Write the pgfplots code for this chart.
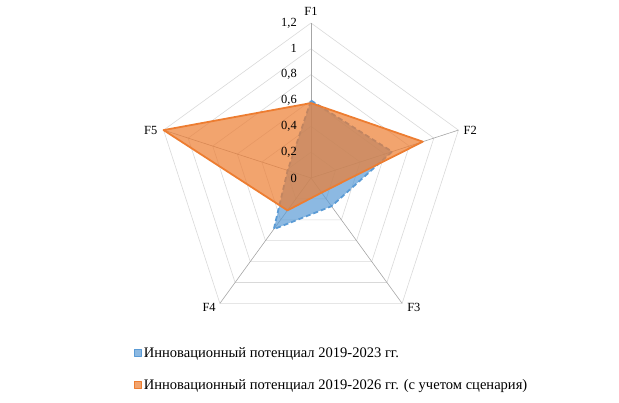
\documentclass[border=0pt]{standalone}
\usepackage{fontspec}
\setmainfont{Liberation Serif}
\usepackage{pgfplots}
\pgfplotsset{compat=1.18}
\usepgfplotslibrary{polar}
\definecolor{orng}{RGB}{237,125,49}
\definecolor{blu}{RGB}{91,155,213}
\definecolor{gridc}{RGB}{217,217,217}
\definecolor{spoke}{RGB}{166,166,166}
\begin{document}
\begin{tikzpicture}
\path[use as bounding box] (0,0) rectangle (619bp,403bp);
\begin{polaraxis}[
  at={(311bp,225bp)}, anchor=origin,
  width=310bp, height=310bp, scale only axis,
  xmin=0, xmax=360, ymin=0, ymax=1.2,
  hide axis, clip=false,
  font=\fontsize{12.5}{14}\selectfont,
  legend style={at={(-0.07,-0.04)}, anchor=north west, draw=none, fill=none,
    row sep=18bp, font=\fontsize{14.6}{16}\selectfont, inner sep=0pt,
    nodes={inner sep=1.5bp}},
  legend cell align=left,
  legend image code/.code={\draw[#1, solid, line width=0.8pt] (0bp,-3.5bp) rectangle (7bp,3.5bp);},
]
% grid pentagons
\addplot[gridc, line width=0.6pt, forget plot] coordinates {(90,0.2)(18,0.2)(-54,0.2)(-126,0.2)(162,0.2)(90,0.2)};
\addplot[gridc, line width=0.6pt, forget plot] coordinates {(90,0.4)(18,0.4)(-54,0.4)(-126,0.4)(162,0.4)(90,0.4)};
\addplot[gridc, line width=0.6pt, forget plot] coordinates {(90,0.6)(18,0.6)(-54,0.6)(-126,0.6)(162,0.6)(90,0.6)};
\addplot[gridc, line width=0.6pt, forget plot] coordinates {(90,0.8)(18,0.8)(-54,0.8)(-126,0.8)(162,0.8)(90,0.8)};
\addplot[gridc, line width=0.6pt, forget plot] coordinates {(90,1.0)(18,1.0)(-54,1.0)(-126,1.0)(162,1.0)(90,1.0)};
\addplot[gridc, line width=0.6pt, forget plot] coordinates {(90,1.2)(18,1.2)(-54,1.2)(-126,1.2)(162,1.2)(90,1.2)};
% spokes
\addplot[spoke, line width=0.6pt, forget plot] coordinates {(90,0)(90,1.2)};
\addplot[spoke, line width=0.6pt, forget plot] coordinates {(18,0)(18,1.2)};
\addplot[spoke, line width=0.6pt, forget plot] coordinates {(-54,0)(-54,1.2)};
\addplot[spoke, line width=0.6pt, forget plot] coordinates {(-126,0)(-126,1.2)};
\addplot[spoke, line width=0.6pt, forget plot] coordinates {(162,0)(162,1.2)};
% series 1 (2019-2023)
\addplot[draw=blu, line width=1.8pt, dash pattern=on 5bp off 3bp, fill=blu, fill opacity=0.7, line join=round]
  coordinates {(90,0.60)(18,0.66)(-54,0.27)(-126,0.49)(162,0.19)(90,0.60)};
\addlegendentry{Инновационный потенциал 2019-2023 гг.}
% series 2 (2019-2026)
\addplot[draw=orng, line width=1.8pt, fill=orng, fill opacity=0.7, line join=round]
  coordinates {(90,0.58)(18,0.91)(-54,0.14)(-126,0.31)(162,1.20)(90,0.58)};
\addlegendentry{Инновационный потенциал 2019-2026 гг. (с учетом сценария)}
% radial tick labels
\node[anchor=east, inner sep=0pt, xshift=-14bp] at (axis cs:90,0) {0};
\node[anchor=east, inner sep=0pt, xshift=-14bp] at (axis cs:90,0.2) {0,2};
\node[anchor=east, inner sep=0pt, xshift=-14bp] at (axis cs:90,0.4) {0,4};
\node[anchor=east, inner sep=0pt, xshift=-14bp] at (axis cs:90,0.6) {0,6};
\node[anchor=east, inner sep=0pt, xshift=-14bp] at (axis cs:90,0.8) {0,8};
\node[anchor=east, inner sep=0pt, xshift=-14bp] at (axis cs:90,1.0) {1};
\node[anchor=east, inner sep=0pt, xshift=-14bp] at (axis cs:90,1.2) {1,2};
% category labels
\node[anchor=south, inner sep=0pt, yshift=7bp] at (axis cs:90,1.2) {F1};
\node[anchor=west, inner sep=0pt, xshift=5bp] at (axis cs:18,1.2) {F2};
\node[anchor=north west, inner sep=0pt, xshift=5bp] at (axis cs:-54,1.2) {F3};
\node[anchor=north east, inner sep=0pt, xshift=-4bp] at (axis cs:-126,1.2) {F4};
\node[anchor=east, inner sep=0pt, xshift=-6bp] at (axis cs:162,1.2) {F5};
\end{polaraxis}
\end{tikzpicture}
\end{document}
